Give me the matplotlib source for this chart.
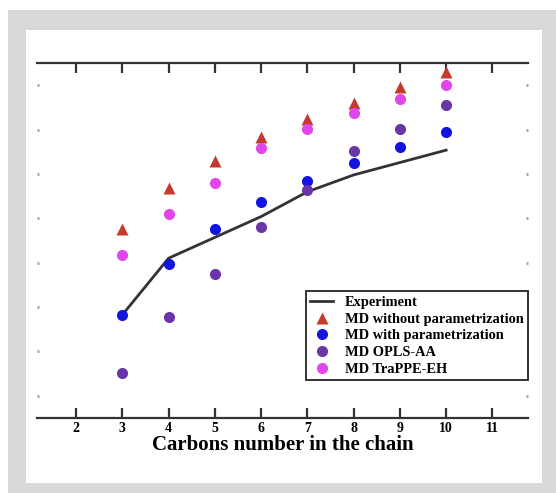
import numpy as np
import matplotlib
matplotlib.use("Agg")
import matplotlib.pyplot as plt
from matplotlib.patches import Rectangle


# -----------------------------
# DATA (arbitrary units, y axis is unlabeled)
# -----------------------------
carbons = [3, 4, 5, 6, 7, 8, 9, 10]

experiment = [1.82, 3.10, 3.57, 4.04, 4.60, 4.98, 5.26, 5.54]
md_no_param = [3.75, 4.68, 5.30, 5.84, 6.24, 6.61, 6.97, 7.30]
md_param = [1.81, 2.97, 3.75, 4.36, 4.85, 5.26, 5.62, 5.95]
md_opls = [0.51, 1.77, 2.75, 3.81, 4.65, 5.52, 6.02, 6.56]
md_trappe = [3.17, 4.10, 4.80, 5.58, 6.01, 6.37, 6.69, 7.01]

xticks = [2, 3, 4, 5, 6, 7, 8, 9, 10, 11]
yticks = [0, 1, 2, 3, 4, 5, 6, 7]

plt.rcParams['font.family'] = ['Liberation Serif', 'DejaVu Serif']
plt.rcParams['font.weight'] = 'bold'

fig = plt.figure(figsize=(5.56, 4.93), dpi=100, facecolor='white')

# grey frame with white panel
fig.patches.append(Rectangle((8 / 556, 0), 1 - 8 / 556, 483 / 493,
                             transform=fig.transFigure, facecolor='#d9d9d9',
                             edgecolor='none', zorder=-2))
fig.patches.append(Rectangle((26 / 556, 10 / 493), 516 / 556, 453 / 493,
                             transform=fig.transFigure, facecolor='white',
                             edgecolor='none', zorder=-1))

ax = fig.add_axes([0.066, 0.1527, 0.8837, 0.7189])
ax.set_facecolor('none')

ax.plot(carbons, experiment, color='#333333', lw=2, label='Experiment', zorder=2)
ax.plot(carbons, md_no_param, '^', color='#c43a2c', ms=8, mec='none',
        label='MD without parametrization', zorder=3)
ax.plot(carbons, md_param, 'o', color='#1414e0', ms=8, mec='none',
        label='MD with parametrization', zorder=3)
ax.plot(carbons, md_opls, 'o', color='#6a35a8', ms=8, mec='none',
        label='MD OPLS-AA', zorder=3)
ax.plot(carbons, md_trappe, 'o', color='#e046ea', ms=8, mec='none',
        label='MD TraPPE-EH', zorder=3)

ax.set_xlim(1.15, 11.77)
ax.set_ylim(-0.5, 7.5)
ax.set_xticks(xticks)
ax.set_yticks(yticks)
ax.set_yticklabels([])

for side in ['left', 'right']:
    ax.spines[side].set_visible(False)
for side in ['top', 'bottom']:
    ax.spines[side].set_linewidth(1.6)
    ax.spines[side].set_color('#333333')

ax.tick_params(axis='x', which='both', direction='in', top=True, length=7,
               width=1.6, color='#333333', labelsize=10, pad=3)
ax.tick_params(axis='y', which='both', direction='in', left=True, right=True,
               length=1.5, width=2, color='#a0a0a0')

ax.set_xlabel("Carbons number in the chain", fontsize=15, fontweight='bold',
              labelpad=0)

leg = ax.legend(loc='lower right', bbox_to_anchor=(1.0, 0.106),
                borderaxespad=0, fancybox=False, fontsize=10.4,
                handlelength=1.6, handletextpad=0.8, labelspacing=0.25,
                borderpad=0.3, framealpha=1)
leg.get_frame().set_edgecolor('#333333')
leg.get_frame().set_linewidth(1.4)

fig.savefig("out.png", dpi=100, facecolor=fig.get_facecolor())
